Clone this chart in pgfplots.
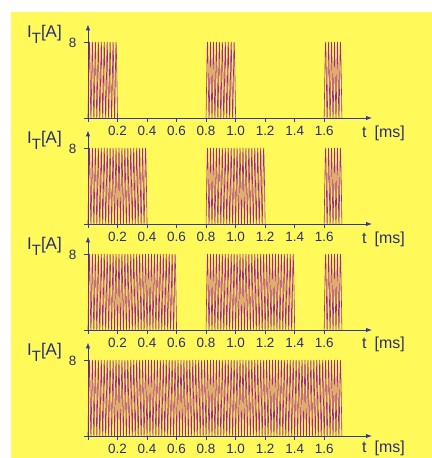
\documentclass[border=0pt]{standalone}
\usepackage{pgfplots}
\pgfplotsset{compat=1.18}
\usepackage{pgfplotstable}
\usetikzlibrary{arrows.meta}
\usepackage{fontspec}
\setmainfont{Liberation Sans}
\definecolor{bgyellow}{RGB}{255,250,90}
\definecolor{axblue}{RGB}{45,55,175}
\definecolor{txtblue}{RGB}{40,45,115}
\definecolor{pulse}{RGB}{165,35,145}

\pgfplotstableread[row sep=\\]{
t y\\
0.00 0\\0.01 8\\0.02 0\\0.03 8\\0.04 0\\0.05 8\\0.06 0\\0.07 8\\0.08 0\\0.09 8\\
0.10 0\\0.11 8\\0.12 0\\0.13 8\\0.14 0\\0.15 8\\0.16 0\\0.17 8\\0.18 0\\0.19 8\\
0.20 0\\0.21 8\\0.22 0\\0.23 8\\0.24 0\\0.25 8\\0.26 0\\0.27 8\\0.28 0\\0.29 8\\
0.30 0\\0.31 8\\0.32 0\\0.33 8\\0.34 0\\0.35 8\\0.36 0\\0.37 8\\0.38 0\\0.39 8\\
0.40 0\\0.41 8\\0.42 0\\0.43 8\\0.44 0\\0.45 8\\0.46 0\\0.47 8\\0.48 0\\0.49 8\\
0.50 0\\0.51 8\\0.52 0\\0.53 8\\0.54 0\\0.55 8\\0.56 0\\0.57 8\\0.58 0\\0.59 8\\
0.60 0\\0.61 8\\0.62 0\\0.63 8\\0.64 0\\0.65 8\\0.66 0\\0.67 8\\0.68 0\\0.69 8\\
0.70 0\\0.71 8\\0.72 0\\0.73 8\\0.74 0\\0.75 8\\0.76 0\\0.77 8\\0.78 0\\0.79 8\\
0.80 0\\0.81 8\\0.82 0\\0.83 8\\0.84 0\\0.85 8\\0.86 0\\0.87 8\\0.88 0\\0.89 8\\
0.90 0\\0.91 8\\0.92 0\\0.93 8\\0.94 0\\0.95 8\\0.96 0\\0.97 8\\0.98 0\\0.99 8\\
1.00 0\\1.01 8\\1.02 0\\1.03 8\\1.04 0\\1.05 8\\1.06 0\\1.07 8\\1.08 0\\1.09 8\\
1.10 0\\1.11 8\\1.12 0\\1.13 8\\1.14 0\\1.15 8\\1.16 0\\1.17 8\\1.18 0\\1.19 8\\
1.20 0\\1.21 8\\1.22 0\\1.23 8\\1.24 0\\1.25 8\\1.26 0\\1.27 8\\1.28 0\\1.29 8\\
1.30 0\\1.31 8\\1.32 0\\1.33 8\\1.34 0\\1.35 8\\1.36 0\\1.37 8\\1.38 0\\1.39 8\\
1.40 0\\1.41 8\\1.42 0\\1.43 8\\1.44 0\\1.45 8\\1.46 0\\1.47 8\\1.48 0\\1.49 8\\
1.50 0\\1.51 8\\1.52 0\\1.53 8\\1.54 0\\1.55 8\\1.56 0\\1.57 8\\1.58 0\\1.59 8\\
1.60 0\\1.61 8\\1.62 0\\1.63 8\\1.64 0\\1.65 8\\1.66 0\\1.67 8\\1.68 0\\1.69 8\\
1.70 0\\1.71 8\\1.72 0\\
}\pulses

\pgfplotsset{
  panel/.style={
    scale only axis, width=287.7bp, height=97.4bp,
    xmin=-0.025, xmax=1.924, ymin=-0.4, ymax=9.85,
    axis lines=middle,
    axis line style={axblue, line width=0.9bp, -{Latex[length=6bp,width=4.5bp]}},
    xtick={0.2,0.4,0.6,0.8,1.0,1.2,1.4,1.6},
    xticklabels={0.2,0.4,0.6,0.8,1.0,1.2,1.4,1.6},
    ytick={8}, yticklabels={8},
    tick style={axblue, line width=0.9bp},
    major tick length=4bp,
    tick align=outside,
    /pgf/number format/assume math mode=true,
    ticklabel style={font=\fontsize{13.5}{13.5}\selectfont, text=txtblue},
    xticklabel style={anchor=north, yshift=-0.5bp},
    yticklabel style={anchor=east, xshift=-4bp, yshift=-1bp},
    clip=false,
  },
  pulseplot/.style={pulse, line width=0.6bp, smooth, no marks},
}

\newcommand{\ylab}[1]{\node[anchor=base west, text=txtblue, font=\fontsize{17}{17}\selectfont, inner sep=0pt] at (27bp,#1) {I\raisebox{-0.36em}{\fontsize{15}{15}\selectfont T}[A]};}
\newcommand{\xlab}[1]{\node[anchor=base west, text=txtblue, font=\fontsize{16}{16}\selectfont, inner sep=0pt] at (362bp,#1) {t\hspace{0.5em}[ms]};}

\begin{document}
\begin{tikzpicture}
\fill[white] (0bp,0bp) rectangle (432bp,-458bp);
\fill[bgyellow] (11bp,-12bp) rectangle (432bp,-458bp);

% Panel 1
\begin{axis}[panel, at={(84.3bp,-121.8bp)}, anchor=south west]
  \addplot[pulseplot, restrict x to domain=-0.001:0.201] table[x=t,y=y]{\pulses};
  \addplot[pulseplot, restrict x to domain=0.799:1.001] table[x=t,y=y]{\pulses};
  \addplot[pulseplot, restrict x to domain=1.599:1.721] table[x=t,y=y]{\pulses};
\end{axis}
\ylab{-37bp}
\xlab{-137bp}

% Panel 2
\begin{axis}[panel, at={(84.3bp,-227.8bp)}, anchor=south west]
  \addplot[pulseplot, restrict x to domain=-0.001:0.401] table[x=t,y=y]{\pulses};
  \addplot[pulseplot, restrict x to domain=0.799:1.201] table[x=t,y=y]{\pulses};
  \addplot[pulseplot, restrict x to domain=1.599:1.721] table[x=t,y=y]{\pulses};
\end{axis}
\ylab{-143bp}
\xlab{-243bp}

% Panel 3
\begin{axis}[panel, at={(84.3bp,-333.8bp)}, anchor=south west]
  \addplot[pulseplot, restrict x to domain=-0.001:0.601] table[x=t,y=y]{\pulses};
  \addplot[pulseplot, restrict x to domain=0.799:1.401] table[x=t,y=y]{\pulses};
  \addplot[pulseplot, restrict x to domain=1.599:1.721] table[x=t,y=y]{\pulses};
\end{axis}
\ylab{-249bp}
\xlab{-348bp}

% Panel 4
\begin{axis}[panel, at={(84.3bp,-439.8bp)}, anchor=south west]
  \addplot[pulseplot, restrict x to domain=-0.001:1.721] table[x=t,y=y]{\pulses};
\end{axis}
\ylab{-355bp}
\xlab{-452bp}
\end{tikzpicture}
\end{document}
